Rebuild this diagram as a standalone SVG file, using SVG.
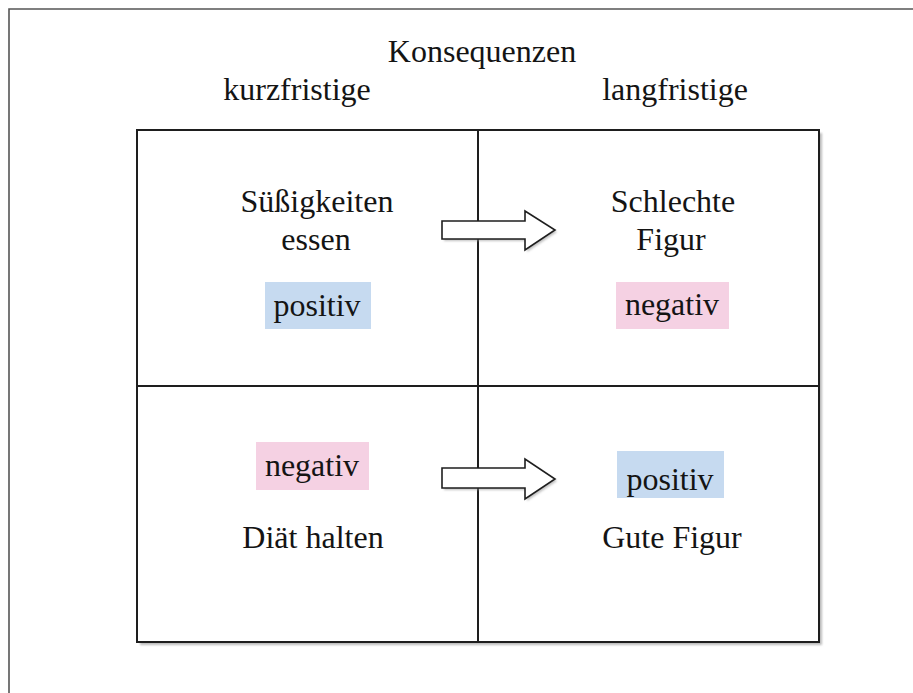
<svg xmlns="http://www.w3.org/2000/svg" width="913" height="693" viewBox="0 0 913 693">
<style>
.lbl{font-family:'Liberation Serif','Times New Roman',serif;font-size:32px;fill:#141414;text-anchor:middle}
.pos{fill:#c6daf0}
.neg{fill:#f5d1e3}
.line{stroke:#1e1e1e;stroke-width:2}
.arrow{fill:#fff;stroke:#1e1e1e;stroke-width:1.6;stroke-linejoin:miter}
</style>
<defs>
<filter id="sh" x="-5%" y="-5%" width="110%" height="110%">
<feGaussianBlur stdDeviation="1.2"/>
</filter>
</defs>
<rect x="0" y="0" width="913" height="693" fill="#fff"/>
<path d="M9,693 V9 H913" fill="none" stroke="#555" stroke-width="1.6"/>

<g id="headers">
<text class="lbl" x="482" y="62">Konsequenzen</text>
<text class="lbl" x="297" y="100">kurzfristige</text>
<text class="lbl" x="675" y="100">langfristige</text>
</g>

<g id="grid">
<rect x="140" y="133" width="682" height="512" fill="#aaa" filter="url(#sh)" opacity="0.8"/>
<rect x="137" y="130" width="682" height="512" fill="#ffffff" class="line"/>
<line x1="478" y1="130" x2="478" y2="642" class="line"/>
<line x1="137" y1="386" x2="819" y2="386" class="line"/>
</g>

<g id="cell-tl">
<text class="lbl" x="317" y="212">Süßigkeiten</text>
<text class="lbl" x="316" y="250">essen</text>
<rect class="pos" x="265" y="282" width="106" height="47"/>
<text class="lbl" x="317" y="316">positiv</text>
</g>

<g id="cell-tr">
<text class="lbl" x="673" y="212">Schlechte</text>
<text class="lbl" x="671" y="250">Figur</text>
<rect class="neg" x="616" y="282" width="113" height="47"/>
<text class="lbl" x="672" y="315">negativ</text>
</g>

<g id="cell-bl">
<rect class="neg" x="256" y="442" width="113" height="48"/>
<text class="lbl" x="312" y="476">negativ</text>
<text class="lbl" x="313" y="548">Diät halten</text>
</g>

<g id="cell-br">
<rect class="pos" x="617" y="451" width="107" height="47"/>
<text class="lbl" x="670" y="490">positiv</text>
<text class="lbl" x="672" y="548">Gute Figur</text>
</g>

<g id="connectors">
<path d="M444,223 H527 V213 L557,232 L527,252 V241 H444 Z" fill="#999" filter="url(#sh)" opacity="0.6"/>
<path class="arrow" d="M442,221 H525 V211 L555,230 L525,250 V239 H442 Z"/>
<path d="M444,470 H527 V461 L557,481 L527,501 V490 H444 Z" fill="#999" filter="url(#sh)" opacity="0.6"/>
<path class="arrow" d="M442,468 H525 V459 L555,479 L525,499 V488 H442 Z"/>
</g>
</svg>
